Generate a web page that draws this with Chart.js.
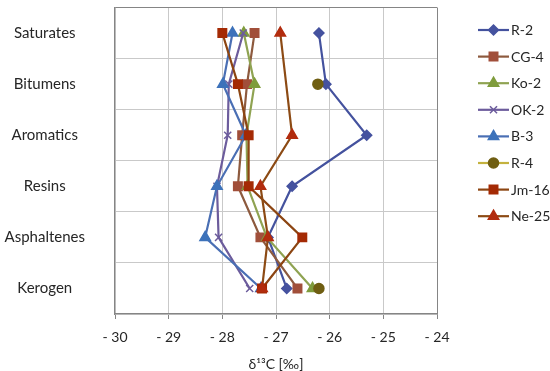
<!DOCTYPE html>
<html>
<head>
<meta charset="utf-8">
<script src="https://cdn.jsdelivr.net/npm/chart.js@4/dist/chart.umd.min.js"></script>
<style>
  html, body { margin: 0; padding: 0; background: #fff; }
  #wrap { width: 550px; height: 371px; }
</style>
</head>
<body>
<div id="wrap"><canvas id="chart"></canvas></div>
<script>
// fractions (y axis) and delta 13C values (x axis)
const fractions = ['Saturates', 'Bitumens', 'Aromatics', 'Resins', 'Asphaltenes', 'Kerogen'];
const xTicks = [-30, -29, -28, -27, -26, -25, -24];

const sampleNames = ['R-2', 'CG-4', 'Ko-2', 'OK-2', 'B-3', 'R-4', 'Jm-16', 'Ne-25'];
const r2   = [-26.20, -26.07, -25.31, -26.70, -27.15, -26.80];
const cg4  = [-27.40, -27.54, -27.63, -27.71, -27.29, -26.60];
const ko2  = [-27.60, -27.40, -27.55, -27.53, -27.17, -26.32];
const ok2  = [-27.61, -27.88, -27.90, -28.10, -28.07, -27.49];
const b3   = [-27.81, -27.99, -27.56, -28.10, -28.32, -27.28];
const r4   = [null, -26.22, null, null, null, -26.20];
const jm16 = [-28.00, -27.71, -27.51, -27.51, -26.51, -27.26];
const ne25 = [-26.92, null, -26.70, -27.29, -27.15, -27.26];
const sampleValues = [r2, cg4, ko2, ok2, b3, r4, jm16, ne25];

// look of each series
const lineColors  = ['#44529e', '#8d5a3e', '#8fa352', '#6c5c9c', '#4a6fb4', '#c4b23e', '#8c4512', '#8c4a14'];
const pointColors = ['#45529f', '#a14f3a', '#7f9c3c', '#6c5c9c', '#3d72ba', '#6f5e12', '#a42a04', '#b22c0e'];
const pointStyles = ['rectRot', 'rect', 'triangle', 'crossRot', 'triangle', 'circle', 'rect', 'triangle'];
const pointRadii  = [5, 6, 6, 5, 6, 5, 6, 6];
const connectGaps = [false, false, false, false, false, false, false, true];

const FAMILY = 'Lato, "Open Sans", sans-serif';
const FONT = { family: FAMILY, size: 14 };
const CAT_FONT = { family: FAMILY, size: 15 };
const TEXT = '#262626';
const AXIS = '#858585';
const GRID = '#c9c9c9';

// legend to the right of the plot: line + marker, then the sample name
const sideLegend = {
    id: 'sideLegend',
    afterDraw(chart) {
        const ctx = chart.ctx;
        const x0 = chart.chartArea.right + 41;
        ctx.save();
        sampleNames.forEach((name, i) => {
            const y = 30 + i * 26.6;
            ctx.strokeStyle = lineColors[i];
            ctx.lineWidth = 2.2;
            ctx.beginPath(); ctx.moveTo(x0, y); ctx.lineTo(x0 + 31, y); ctx.stroke();
            ctx.fillStyle = pointColors[i];
            ctx.strokeStyle = pointColors[i];
            ctx.lineWidth = 1.5;
            Chart.helpers.drawPoint(ctx, { pointStyle: pointStyles[i], radius: pointRadii[i], rotation: 0, borderWidth: 1.5 }, x0 + 15.5, y);
            ctx.fillStyle = TEXT;
            ctx.font = '14px ' + FAMILY;
            ctx.textAlign = 'left';
            ctx.textBaseline = 'middle';
            ctx.fillText(name, x0 + 33, y + 0.5);
        });
        ctx.restore();
    }
};

const datasets = sampleNames.map((name, i) => ({
    label: name,
    data: sampleValues[i],
    borderColor: lineColors[i],
    backgroundColor: pointColors[i],
    borderWidth: 2.2,
    pointStyle: pointStyles[i],
    pointRadius: pointRadii[i],
    pointBackgroundColor: pointColors[i],
    pointBorderColor: pointColors[i],
    pointBorderWidth: 1.5,
    spanGaps: connectGaps[i],
    tension: 0,
    order: -i
}));

new Chart(document.getElementById('chart'), {
    type: 'line',
    data: { labels: fractions, datasets },
    plugins: [sideLegend],
    options: {
        indexAxis: 'y',
        responsive: true,
        maintainAspectRatio: false,
        animation: false,
        events: [],
        layout: { padding: { top: 6, right: 113, bottom: 0, left: 0 } },
        plugins: {
            tooltip: { enabled: false },
            legend: { display: false }
        },
        scales: {
            x: {
                type: 'linear',
                position: 'bottom',
                min: xTicks[0],
                max: xTicks[xTicks.length - 1],
                afterBuildTicks: s => { s.ticks = xTicks.map(v => ({ value: v })); },
                afterFit: s => { s.height = 57; },
                ticks: {
                    font: FONT,
                    color: TEXT,
                    padding: 10,
                    callback: v => '- ' + Math.abs(v)
                },
                grid: {
                    color: c => (c.tick && c.tick.value === xTicks[xTicks.length - 1]) ? AXIS : GRID,
                    tickColor: AXIS,
                    tickLength: 5,
                    lineWidth: 1
                },
                border: { color: AXIS, width: 1.2 },
                title: {
                    display: true,
                    text: 'δ¹³C [‰]',
                    font: FONT,
                    color: TEXT,
                    padding: { top: 0, bottom: -2 }
                }
            },
            y: {
                type: 'category',
                offset: true,
                afterFit: s => { s.width = 115; s.paddingTop = 0; s.paddingBottom = 0; },
                ticks: {
                    font: CAT_FONT,
                    color: TEXT,
                    padding: 30,
                    crossAlign: 'center',
                    autoSkip: false
                },
                grid: {
                    offset: true,
                    drawTicks: false,
                    color: c => (c.index === 0) ? AXIS : GRID,
                    lineWidth: 1
                },
                border: { color: AXIS, width: 1.2 }
            }
        }
    }
});
</script>
</body>
</html>
